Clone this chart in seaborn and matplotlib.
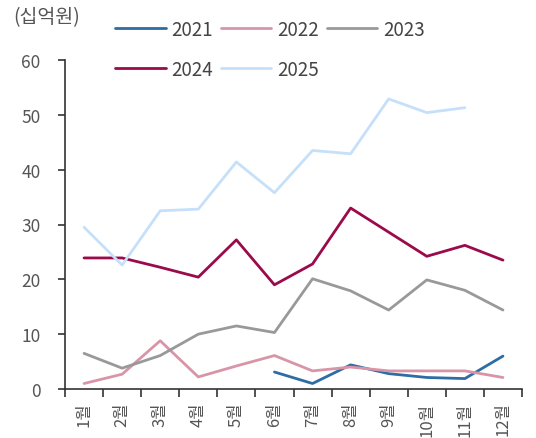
import numpy as np
import pandas as pd
import matplotlib
matplotlib.use("Agg")
import matplotlib.pyplot as plt
import seaborn as sns

months = ["1월", "2월", "3월", "4월", "5월", "6월", "7월", "8월", "9월", "10월", "11월", "12월"]
years = ["2021", "2022", "2023", "2024", "2025"]
nan = np.nan
v2021 = [nan, nan, nan, nan, nan, 3.1, 1.0, 4.4, 2.8, 2.1, 1.9, 6.0]
v2022 = [1.0, 2.7, 8.8, 2.2, 4.2, 6.1, 3.3, 4.0, 3.3, 3.3, 3.3, 2.1]
v2023 = [6.5, 3.8, 6.1, 10.0, 11.5, 10.3, 20.1, 17.9, 14.4, 19.9, 18.0, 14.4]
v2024 = [23.9, 23.9, 22.2, 20.4, 27.2, 19.0, 22.8, 33.0, 28.6, 24.2, 26.2, 23.5]
v2025 = [29.5, 22.6, 32.5, 32.8, 41.4, 35.8, 43.5, 42.9, 52.9, 50.4, 51.3, nan]
colors = ["#2E6DA4", "#D895A8", "#999999", "#9B0A4B", "#C6E0FA"]

rows = []
for yr, vals in zip(years, [v2021, v2022, v2023, v2024, v2025]):
    for i, v in enumerate(vals):
        rows.append({"year": yr, "pos": i, "value": v})
df = pd.DataFrame(rows).dropna()

sns.set_theme(style="white")
plt.rcParams["font.family"] = ["Noto Sans CJK KR", "DejaVu Sans"]

fig = plt.figure(figsize=(5.36, 4.39), dpi=100)
ax = fig.add_axes([65 / 536, 1 - 390 / 439, (522 - 65) / 536, (390 - 61) / 439])

sns.lineplot(data=df, x="pos", y="value", hue="year", hue_order=years,
             palette=dict(zip(years, colors)), linewidth=2.0, ax=ax, legend=True)

# legend fills row by row: 2021 2022 2023 / 2024 2025
handles, labels = ax.get_legend_handles_labels()
ax.get_legend().remove()
order = [0, 3, 1, 4, 2]
fig.legend([handles[i] for i in order], [labels[i] for i in order],
           loc="upper left", bbox_to_anchor=(98 / 536, 1 - 3 / 439), ncol=3,
           frameon=False, fontsize=13.5, handlelength=2.7, handletextpad=0.32,
           columnspacing=0.4, labelspacing=1.0, labelcolor="#444444")

ax.set_xlim(-0.5, 11.5)
ax.set_ylim(0, 60)
ax.set_yticks(range(0, 61, 10))
ax.set_xticks(range(12))
ax.set_xticklabels(months, rotation=90)
ax.set_xticks(np.arange(-0.5, 12, 1), minor=True)
ax.tick_params(axis="x", which="major", length=0, pad=9, labelsize=12, labelcolor="#555555")
ax.tick_params(axis="x", which="minor", length=6, width=1.2, color="#333333", direction="out", bottom=True)
ax.tick_params(axis="y", length=5, width=1.2, color="#333333", direction="out", left=True,
               pad=12.5, labelsize=12.5, labelcolor="#555555")
ax.set_xlabel("")
ax.set_ylabel("")
for s in ["top", "right"]:
    ax.spines[s].set_visible(False)
for s in ["left", "bottom"]:
    ax.spines[s].set_color("#333333")
    ax.spines[s].set_linewidth(1.2)

fig.text(13 / 536, 1 - 18 / 439, "(십억원)", fontsize=14, color="#555555", va="center", ha="left")

fig.savefig("out.png", dpi=100)
